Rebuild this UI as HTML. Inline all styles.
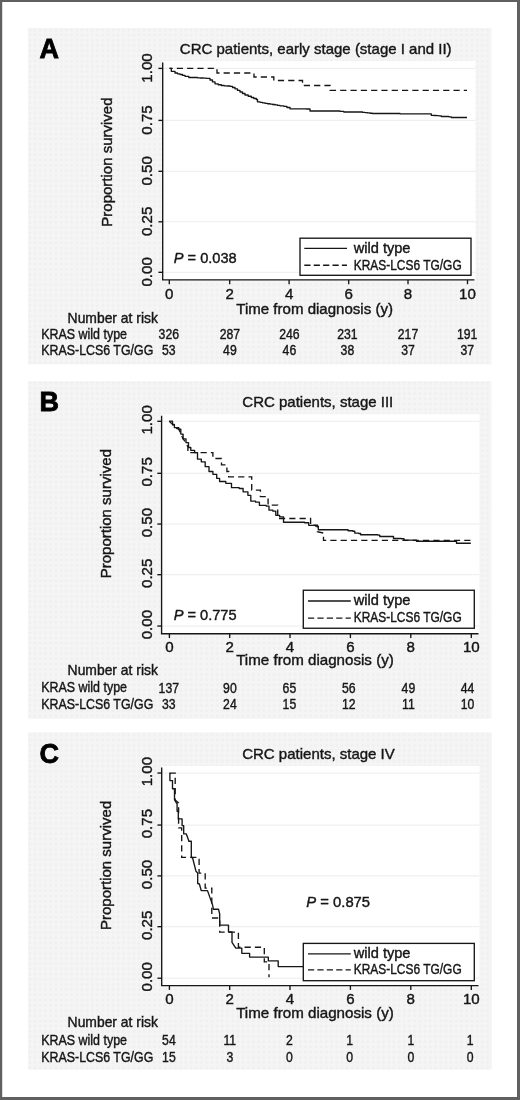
<!DOCTYPE html>
<html lang="en">
<head>
<meta charset="utf-8">
<title>Kaplan-Meier survival by KRAS-LCS6 genotype</title>
<style>
html,body{margin:0;padding:0;background:#fff;}
body{width:520px;height:1100px;overflow:hidden;font-family:"Liberation Sans", sans-serif;}
svg{display:block;}
text{white-space:pre;stroke:#161616;stroke-width:0.4px;}
text.lt{fill:#000;stroke:#000;stroke-width:.85px;}
</style>
</head>
<body>
<svg width="520" height="1100" viewBox="0 0 520 1100" font-family='"Liberation Sans", sans-serif' fill="#161616">
<defs><pattern id="ht" width="5.2" height="5.2" patternUnits="userSpaceOnUse"><path d="M0 1.3H5.2M1.3 0V5.2" stroke="#f8f8f8" stroke-width="2.2" stroke-opacity="0.6" fill="none"/></pattern></defs>
<rect x="0" y="0" width="520" height="1100" fill="#fff"/>
<g transform="translate(0 0.00)">
<rect x="28.2" y="28.0" width="463.2" height="336.3" fill="#f0f0f0"/>
<rect x="28.2" y="28.0" width="463.2" height="336.3" fill="url(#ht)"/>
<rect x="162.7" y="61.0" width="312.9" height="219.4" fill="#fff"/>
<line x1="162.7" x2="475.6" y1="68.40" y2="68.40" stroke="#eaeaea" stroke-width="0.9"/>
<line x1="162.7" x2="475.6" y1="120.40" y2="120.40" stroke="#eaeaea" stroke-width="0.9"/>
<line x1="162.7" x2="475.6" y1="171.30" y2="171.30" stroke="#eaeaea" stroke-width="0.9"/>
<line x1="162.7" x2="475.6" y1="221.80" y2="221.80" stroke="#eaeaea" stroke-width="0.9"/>
<line x1="162.7" x2="475.6" y1="272.30" y2="272.30" stroke="#eaeaea" stroke-width="0.9"/>
<path d="M467.0 90.3L330.0 90.3L330.0 85.5L302.5 85.5L302.5 80.5L273.8 80.5L273.8 77.0L254.0 77.0L254.0 73.0L217.0 73.0L217.0 68.3L169.5 68.3" fill="none" stroke="#161616" stroke-width="1.35" stroke-dasharray="6.2 4.1" stroke-dashoffset="3.0" stroke-linejoin="miter"/>
<path d="M169.5 68.3H171.3V71.3H175.0V73.0H177.5V73.8H180.0V74.5H182.5V75.4H185.0V76.3H188.8V77.5H197.5V77.8H200.4V78.0H203.4V78.1H206.3V78.3H210.0V80.0H212.5V81.9H215.0V83.8H218.2V84.7H221.3V85.5H224.2V85.8H227.1V86.0H230.0V86.3H232.5V87.5H235.0V88.8H237.5V90.4H240.0V92.0H242.5V93.5H245.0V95.0H248.2V96.2H251.3V97.5H253.8V98.5H256.3V99.5H257.5V101.8H260.0V102.3H262.5V102.8H265.0V103.3H267.5V103.7H270.0V104.1H272.5V104.5H275.0V104.9H277.5V105.4H280.0V105.8H283.8V106.3H286.9V107.5H290.0V108.8H306.3V109.0H310.0V111.0H340.0V111.3H343.8V112.0H362.5V112.3H365.0V112.6H367.5V112.9H370.0V113.2H372.5V113.5H400.0V113.8H427.5V113.8H431.3V115.3H433.8V115.5H436.3V115.6H438.8V115.8H441.3V116.5H448.8V116.8H451.3V117.5H467.0V117.5" fill="none" stroke="#161616" stroke-width="1.35" stroke-linejoin="round"/>
<rect x="300.0" y="238.2" width="171.0" height="37.1" fill="#fff" stroke="#161616" stroke-width="1.35"/>
<line x1="304.3" x2="347.0" y1="248.4" y2="248.4" stroke="#161616" stroke-width="1.35"/>
<line x1="304.3" x2="347.0" y1="265.2" y2="265.2" stroke="#161616" stroke-width="1.35" stroke-dasharray="6.2 3.2"/>
<text x="353.7" y="253.4" font-size="14.6">wild type</text>
<text x="353.7" y="269.7" font-size="14.2" textLength="108" lengthAdjust="spacingAndGlyphs">KRAS-LCS6 TG/GG</text>
<path d="M162.7 62.4V279.9H474.4" fill="none" stroke="#161616" stroke-width="1.35"/>
<line x1="158.4" x2="162.7" y1="68.40" y2="68.40" stroke="#161616" stroke-width="1.35"/>
<text transform="translate(151.8 68.00) rotate(-90)" text-anchor="middle" font-size="15.05">1.00</text>
<line x1="158.4" x2="162.7" y1="120.40" y2="120.40" stroke="#161616" stroke-width="1.35"/>
<text transform="translate(151.8 120.00) rotate(-90)" text-anchor="middle" font-size="15.05">0.75</text>
<line x1="158.4" x2="162.7" y1="171.30" y2="171.30" stroke="#161616" stroke-width="1.35"/>
<text transform="translate(151.8 170.90) rotate(-90)" text-anchor="middle" font-size="15.05">0.50</text>
<line x1="158.4" x2="162.7" y1="221.80" y2="221.80" stroke="#161616" stroke-width="1.35"/>
<text transform="translate(151.8 221.40) rotate(-90)" text-anchor="middle" font-size="15.05">0.25</text>
<line x1="158.4" x2="162.7" y1="272.30" y2="272.30" stroke="#161616" stroke-width="1.35"/>
<text transform="translate(151.8 271.90) rotate(-90)" text-anchor="middle" font-size="15.05">0.00</text>
<line x1="169.30" x2="169.30" y1="279.9" y2="284.2" stroke="#161616" stroke-width="1.35"/>
<text x="169.30" y="299.4" text-anchor="middle" font-size="15.1">0</text>
<text transform="translate(168.80 338.9) scale(0.855 1)" text-anchor="middle" font-size="14.3">326</text>
<text transform="translate(168.80 355.1) scale(0.855 1)" text-anchor="middle" font-size="14.3">53</text>
<line x1="229.70" x2="229.70" y1="279.9" y2="284.2" stroke="#161616" stroke-width="1.35"/>
<text x="229.70" y="299.4" text-anchor="middle" font-size="15.1">2</text>
<text transform="translate(229.90 338.9) scale(0.855 1)" text-anchor="middle" font-size="14.3">287</text>
<text transform="translate(229.90 355.1) scale(0.855 1)" text-anchor="middle" font-size="14.3">49</text>
<line x1="289.10" x2="289.10" y1="279.9" y2="284.2" stroke="#161616" stroke-width="1.35"/>
<text x="289.10" y="299.4" text-anchor="middle" font-size="15.1">4</text>
<text transform="translate(289.40 338.9) scale(0.855 1)" text-anchor="middle" font-size="14.3">246</text>
<text transform="translate(289.40 355.1) scale(0.855 1)" text-anchor="middle" font-size="14.3">46</text>
<line x1="348.70" x2="348.70" y1="279.9" y2="284.2" stroke="#161616" stroke-width="1.35"/>
<text x="348.70" y="299.4" text-anchor="middle" font-size="15.1">6</text>
<text transform="translate(347.40 338.9) scale(0.855 1)" text-anchor="middle" font-size="14.3">231</text>
<text transform="translate(347.40 355.1) scale(0.855 1)" text-anchor="middle" font-size="14.3">38</text>
<line x1="408.00" x2="408.00" y1="279.9" y2="284.2" stroke="#161616" stroke-width="1.35"/>
<text x="408.00" y="299.4" text-anchor="middle" font-size="15.1">8</text>
<text transform="translate(408.00 338.9) scale(0.855 1)" text-anchor="middle" font-size="14.3">217</text>
<text transform="translate(408.00 355.1) scale(0.855 1)" text-anchor="middle" font-size="14.3">37</text>
<line x1="467.50" x2="467.50" y1="279.9" y2="284.2" stroke="#161616" stroke-width="1.35"/>
<text x="467.50" y="299.4" text-anchor="middle" font-size="15.1">10</text>
<text transform="translate(467.20 338.9) scale(0.855 1)" text-anchor="middle" font-size="14.3">191</text>
<text transform="translate(467.20 355.1) scale(0.855 1)" text-anchor="middle" font-size="14.3">37</text>
<text transform="translate(111.7 162.1) rotate(-90)" text-anchor="middle" font-size="15.0">Proportion survived</text>
<text x="236.3" y="313.8" font-size="15.05">Time from diagnosis (y)</text>
<text x="179.8" y="54.4" font-size="15.0">CRC patients, early stage (stage I and II)</text>
<text transform="translate(39.5 57.5) scale(0.95 1)" font-size="28.4" font-weight="bold" class="lt">A</text>
<text x="173.8" y="263.2" font-size="14.6"><tspan font-style="italic">P</tspan> = 0.038</text>
<text x="67.6" y="322.7" font-size="13.9">Number at risk</text>
<text x="41.3" y="338.9" font-size="14" textLength="85.7" lengthAdjust="spacingAndGlyphs">KRAS wild type</text>
<text x="41.3" y="355.1" font-size="14" textLength="112" lengthAdjust="spacingAndGlyphs">KRAS-LCS6 TG/GG</text>
</g>
<g transform="translate(0 353.25)">
<rect x="28.2" y="28.0" width="463.2" height="337.5" fill="#f0f0f0"/>
<rect x="28.2" y="28.0" width="463.2" height="337.5" fill="url(#ht)"/>
<rect x="161.6" y="61.0" width="317.8" height="219.4" fill="#fff"/>
<line x1="161.6" x2="479.4" y1="68.05" y2="68.05" stroke="#eaeaea" stroke-width="0.9"/>
<line x1="161.6" x2="479.4" y1="120.05" y2="120.05" stroke="#eaeaea" stroke-width="0.9"/>
<line x1="161.6" x2="479.4" y1="170.80" y2="170.80" stroke="#eaeaea" stroke-width="0.9"/>
<line x1="161.6" x2="479.4" y1="221.45" y2="221.45" stroke="#eaeaea" stroke-width="0.9"/>
<line x1="161.6" x2="479.4" y1="272.80" y2="272.80" stroke="#eaeaea" stroke-width="0.9"/>
<path d="M169.2 67.9L172.5 71.1L174.4 74.4L178.8 75.9L180.8 80.8L183.1 85.6L186.0 89.4L187.9 93.8L187.9 99.4L212.9 99.4L212.9 105.2L221.5 105.2L221.5 111.6L226.9 111.6L226.9 118.2L228.7 118.2L228.7 123.6L251.7 123.6L251.7 136.8L260.4 136.8L260.4 143.4L268.1 143.4L268.1 151.8L277.7 151.8L277.7 165.2L310.6 165.2L310.6 171.8L317.3 171.8L317.3 178.5L323.5 179.8L323.5 187.1L470.8 187.1" fill="none" stroke="#161616" stroke-width="1.35" stroke-dasharray="6.2 4.1" stroke-dashoffset="0" stroke-linejoin="miter"/>
<path d="M169.2 67.9H172.5V71.1H174.4V74.4H178.8V75.9H180.8V80.8H183.1V85.6H186.0V89.4H188.5V94.2H190.8V97.1H194.6V99.4H197.5V105.8H201.3V108.6H205.2V113.4H209.0V118.2H212.9V121.1H216.7V125.1H219.6V128.2H225.8V130.1H231.5V134.4H239.2V135.2H243.1V138.6H247.9V142.1H250.8V147.9H255.6V148.9H259.4V152.1H266.2V152.8H269.0V156.9H272.9V157.9H275.8V162.1H279.6V163.6H283.5V169.0H304.6V169.5H308.7V172.1H315.4V172.8H318.3V176.5H346.2V176.5H348.1V177.5H352.9V178.0H354.8V179.9H358.7V180.2H360.6V181.5H377.9V181.8H379.8V183.2H391.5V183.2H393.5V185.2H401.2V185.5H404.0V186.8H412.7V186.8H416.5V188.0H455.0V188.0H456.5V190.0H470.8V190.0" fill="none" stroke="#161616" stroke-width="1.35" stroke-linejoin="round"/>
<rect x="303.3" y="237.0" width="171.0" height="38.0" fill="#fff" stroke="#161616" stroke-width="1.35"/>
<line x1="308.0" x2="350.8" y1="247.7" y2="247.7" stroke="#161616" stroke-width="1.35"/>
<line x1="308.0" x2="350.8" y1="264.9" y2="264.9" stroke="#161616" stroke-width="1.35" stroke-dasharray="6.2 3.2"/>
<text x="353.7" y="252.0" font-size="14.6">wild type</text>
<text x="353.7" y="268.3" font-size="14.2" textLength="108" lengthAdjust="spacingAndGlyphs">KRAS-LCS6 TG/GG</text>
<path d="M161.6 62.4V280.45H478.5" fill="none" stroke="#161616" stroke-width="1.35"/>
<line x1="157.3" x2="161.6" y1="68.05" y2="68.05" stroke="#161616" stroke-width="1.35"/>
<text transform="translate(151.8 66.65) rotate(-90)" text-anchor="middle" font-size="15.05">1.00</text>
<line x1="157.3" x2="161.6" y1="120.05" y2="120.05" stroke="#161616" stroke-width="1.35"/>
<text transform="translate(151.8 118.65) rotate(-90)" text-anchor="middle" font-size="15.05">0.75</text>
<line x1="157.3" x2="161.6" y1="170.80" y2="170.80" stroke="#161616" stroke-width="1.35"/>
<text transform="translate(151.8 169.40) rotate(-90)" text-anchor="middle" font-size="15.05">0.50</text>
<line x1="157.3" x2="161.6" y1="221.45" y2="221.45" stroke="#161616" stroke-width="1.35"/>
<text transform="translate(151.8 220.05) rotate(-90)" text-anchor="middle" font-size="15.05">0.25</text>
<line x1="157.3" x2="161.6" y1="272.80" y2="272.80" stroke="#161616" stroke-width="1.35"/>
<text transform="translate(151.8 271.40) rotate(-90)" text-anchor="middle" font-size="15.05">0.00</text>
<line x1="169.40" x2="169.40" y1="280.45" y2="284.8" stroke="#161616" stroke-width="1.35"/>
<text x="169.40" y="298.7" text-anchor="middle" font-size="15.1">0</text>
<text transform="translate(168.80 339.9) scale(0.855 1)" text-anchor="middle" font-size="14.3">137</text>
<text transform="translate(168.80 355.9) scale(0.855 1)" text-anchor="middle" font-size="14.3">33</text>
<line x1="229.70" x2="229.70" y1="280.45" y2="284.8" stroke="#161616" stroke-width="1.35"/>
<text x="229.70" y="298.7" text-anchor="middle" font-size="15.1">2</text>
<text transform="translate(229.90 339.9) scale(0.855 1)" text-anchor="middle" font-size="14.3">90</text>
<text transform="translate(229.90 355.9) scale(0.855 1)" text-anchor="middle" font-size="14.3">24</text>
<line x1="290.00" x2="290.00" y1="280.45" y2="284.8" stroke="#161616" stroke-width="1.35"/>
<text x="290.00" y="298.7" text-anchor="middle" font-size="15.1">4</text>
<text transform="translate(289.40 339.9) scale(0.855 1)" text-anchor="middle" font-size="14.3">65</text>
<text transform="translate(289.40 355.9) scale(0.855 1)" text-anchor="middle" font-size="14.3">15</text>
<line x1="350.40" x2="350.40" y1="280.45" y2="284.8" stroke="#161616" stroke-width="1.35"/>
<text x="350.40" y="298.7" text-anchor="middle" font-size="15.1">6</text>
<text transform="translate(348.70 339.9) scale(0.855 1)" text-anchor="middle" font-size="14.3">56</text>
<text transform="translate(348.70 355.9) scale(0.855 1)" text-anchor="middle" font-size="14.3">12</text>
<line x1="410.80" x2="410.80" y1="280.45" y2="284.8" stroke="#161616" stroke-width="1.35"/>
<text x="410.80" y="298.7" text-anchor="middle" font-size="15.1">8</text>
<text transform="translate(408.40 339.9) scale(0.855 1)" text-anchor="middle" font-size="14.3">49</text>
<text transform="translate(408.40 355.9) scale(0.855 1)" text-anchor="middle" font-size="14.3">11</text>
<line x1="471.30" x2="471.30" y1="280.45" y2="284.8" stroke="#161616" stroke-width="1.35"/>
<text x="471.30" y="298.7" text-anchor="middle" font-size="15.1">10</text>
<text transform="translate(467.60 339.9) scale(0.855 1)" text-anchor="middle" font-size="14.3">44</text>
<text transform="translate(467.60 355.9) scale(0.855 1)" text-anchor="middle" font-size="14.3">10</text>
<text transform="translate(111.4 160.4) rotate(-90)" text-anchor="middle" font-size="15.0">Proportion survived</text>
<text x="236.2" y="312.2" font-size="15.15">Time from diagnosis (y)</text>
<text x="317.8" y="53.5" text-anchor="middle" font-size="15.0">CRC patients, stage III</text>
<text transform="translate(39.5 57.5) scale(0.95 1)" font-size="28.4" font-weight="bold" class="lt">B</text>
<text x="173.7" y="266.9" font-size="14.6"><tspan font-style="italic">P</tspan> = 0.775</text>
<text x="67.6" y="321.3" font-size="13.9">Number at risk</text>
<text x="41.3" y="338.9" font-size="14" textLength="85.7" lengthAdjust="spacingAndGlyphs">KRAS wild type</text>
<text x="41.3" y="356.0" font-size="14" textLength="112" lengthAdjust="spacingAndGlyphs">KRAS-LCS6 TG/GG</text>
</g>
<g transform="translate(0 705.00)">
<rect x="28.2" y="27.5" width="463.5" height="337.1" fill="#f0f0f0"/>
<rect x="28.2" y="27.5" width="463.5" height="337.1" fill="url(#ht)"/>
<rect x="161.7" y="61.0" width="317.7" height="219.4" fill="#fff"/>
<line x1="161.7" x2="479.4" y1="68.05" y2="68.05" stroke="#eaeaea" stroke-width="0.9"/>
<line x1="161.7" x2="479.4" y1="120.05" y2="120.05" stroke="#eaeaea" stroke-width="0.9"/>
<line x1="161.7" x2="479.4" y1="170.90" y2="170.90" stroke="#eaeaea" stroke-width="0.9"/>
<line x1="161.7" x2="479.4" y1="221.70" y2="221.70" stroke="#eaeaea" stroke-width="0.9"/>
<line x1="161.7" x2="479.4" y1="273.20" y2="273.20" stroke="#eaeaea" stroke-width="0.9"/>
<path d="M169.6 68.1L175.2 68.1L175.2 95.0L178.6 98.0L178.6 122.9L181.7 122.9L181.7 152.4L199.1 152.4L199.1 168.1L205.2 168.1L205.2 183.1L211.8 183.1L211.8 213.0L219.7 213.0L219.7 227.1L238.4 227.1L238.4 242.2L264.3 242.2L264.3 256.8L269.0 256.8L269.0 272.2" fill="none" stroke="#161616" stroke-width="1.35" stroke-dasharray="6.2 4.1" stroke-dashoffset="0" stroke-linejoin="miter"/>
<path d="M169.6 68.1L169.9 68.1L169.9 75.6L172.5 75.6L172.5 83.7L174.5 83.7L174.5 94.6L176.5 98.1L177.1 98.1L177.1 106.2L178.3 106.2L178.3 113.9L182.1 113.9L182.1 120.6L183.7 120.6L183.7 128.9L186.3 128.9L188.7 135.6L188.7 136.2L191.3 136.2L191.3 152.5L192.5 152.5L196.0 166.3L197.7 168.1L197.7 178.5L199.4 179.0L201.2 185.5L207.5 185.6L212.7 200.4L213.3 204.2L218.5 204.2L219.7 209.0L219.7 220.1L228.5 220.1L228.5 227.0L232.0 227.0L232.0 237.4L235.8 243.1L241.8 243.1L241.8 248.3L249.6 248.3L249.6 252.1L268.3 252.1L268.3 255.9L278.2 255.9L278.2 261.6L303.3 261.6" fill="none" stroke="#161616" stroke-width="1.35" stroke-linejoin="round"/>
<rect x="303.3" y="238.4" width="171.0" height="37.3" fill="#fff" stroke="#161616" stroke-width="1.35"/>
<line x1="308.0" x2="350.8" y1="248.8" y2="248.8" stroke="#161616" stroke-width="1.35"/>
<line x1="308.0" x2="350.8" y1="264.9" y2="264.9" stroke="#161616" stroke-width="1.35" stroke-dasharray="6.2 3.2"/>
<text x="353.7" y="253.1" font-size="14.6">wild type</text>
<text x="353.7" y="268.7" font-size="14.2" textLength="108" lengthAdjust="spacingAndGlyphs">KRAS-LCS6 TG/GG</text>
<path d="M161.7 62.4V280.65H478.5" fill="none" stroke="#161616" stroke-width="1.35"/>
<line x1="157.4" x2="161.7" y1="68.05" y2="68.05" stroke="#161616" stroke-width="1.35"/>
<text transform="translate(151.8 66.65) rotate(-90)" text-anchor="middle" font-size="15.05">1.00</text>
<line x1="157.4" x2="161.7" y1="120.05" y2="120.05" stroke="#161616" stroke-width="1.35"/>
<text transform="translate(151.8 118.65) rotate(-90)" text-anchor="middle" font-size="15.05">0.75</text>
<line x1="157.4" x2="161.7" y1="170.90" y2="170.90" stroke="#161616" stroke-width="1.35"/>
<text transform="translate(151.8 169.50) rotate(-90)" text-anchor="middle" font-size="15.05">0.50</text>
<line x1="157.4" x2="161.7" y1="221.70" y2="221.70" stroke="#161616" stroke-width="1.35"/>
<text transform="translate(151.8 220.30) rotate(-90)" text-anchor="middle" font-size="15.05">0.25</text>
<line x1="157.4" x2="161.7" y1="273.20" y2="273.20" stroke="#161616" stroke-width="1.35"/>
<text transform="translate(151.8 271.80) rotate(-90)" text-anchor="middle" font-size="15.05">0.00</text>
<line x1="169.40" x2="169.40" y1="280.65" y2="284.9" stroke="#161616" stroke-width="1.35"/>
<text x="169.40" y="298.8" text-anchor="middle" font-size="15.1">0</text>
<text transform="translate(168.90 340.2) scale(0.855 1)" text-anchor="middle" font-size="14.3">54</text>
<text transform="translate(168.90 356.6) scale(0.855 1)" text-anchor="middle" font-size="14.3">15</text>
<line x1="229.70" x2="229.70" y1="280.65" y2="284.9" stroke="#161616" stroke-width="1.35"/>
<text x="229.70" y="298.8" text-anchor="middle" font-size="15.1">2</text>
<text transform="translate(229.80 340.2) scale(0.855 1)" text-anchor="middle" font-size="14.3">11</text>
<text transform="translate(229.80 356.6) scale(0.855 1)" text-anchor="middle" font-size="14.3">3</text>
<line x1="290.00" x2="290.00" y1="280.65" y2="284.9" stroke="#161616" stroke-width="1.35"/>
<text x="290.00" y="298.8" text-anchor="middle" font-size="15.1">4</text>
<text transform="translate(289.30 340.2) scale(0.855 1)" text-anchor="middle" font-size="14.3">2</text>
<text transform="translate(289.30 356.6) scale(0.855 1)" text-anchor="middle" font-size="14.3">0</text>
<line x1="350.40" x2="350.40" y1="280.65" y2="284.9" stroke="#161616" stroke-width="1.35"/>
<text x="350.40" y="298.8" text-anchor="middle" font-size="15.1">6</text>
<text transform="translate(349.70 340.2) scale(0.855 1)" text-anchor="middle" font-size="14.3">1</text>
<text transform="translate(349.70 356.6) scale(0.855 1)" text-anchor="middle" font-size="14.3">0</text>
<line x1="410.80" x2="410.80" y1="280.65" y2="284.9" stroke="#161616" stroke-width="1.35"/>
<text x="410.80" y="298.8" text-anchor="middle" font-size="15.1">8</text>
<text transform="translate(410.80 340.2) scale(0.855 1)" text-anchor="middle" font-size="14.3">1</text>
<text transform="translate(410.80 356.6) scale(0.855 1)" text-anchor="middle" font-size="14.3">0</text>
<line x1="471.30" x2="471.30" y1="280.65" y2="284.9" stroke="#161616" stroke-width="1.35"/>
<text x="471.30" y="298.8" text-anchor="middle" font-size="15.1">10</text>
<text transform="translate(470.20 340.2) scale(0.855 1)" text-anchor="middle" font-size="14.3">1</text>
<text transform="translate(470.20 356.6) scale(0.855 1)" text-anchor="middle" font-size="14.3">0</text>
<text transform="translate(111.4 160.4) rotate(-90)" text-anchor="middle" font-size="15.0">Proportion survived</text>
<text x="236.2" y="313.2" font-size="15.15">Time from diagnosis (y)</text>
<text x="318.5" y="54.4" text-anchor="middle" font-size="15.0">CRC patients, stage IV</text>
<text transform="translate(39.5 57.5) scale(0.95 1)" font-size="28.4" font-weight="bold" class="lt">C</text>
<text x="306.3" y="202.2" font-size="14.8"><tspan font-style="italic">P</tspan> = 0.875</text>
<text x="67.6" y="322.4" font-size="13.9">Number at risk</text>
<text x="41.3" y="339.9" font-size="14" textLength="85.7" lengthAdjust="spacingAndGlyphs">KRAS wild type</text>
<text x="41.3" y="357.0" font-size="14" textLength="112" lengthAdjust="spacingAndGlyphs">KRAS-LCS6 TG/GG</text>
</g>
<path d="M0 0H520V1100H0ZM2.2 1.9V1096.9H517V1.9Z" fill="#606060" fill-rule="evenodd"/>
</svg>
</body>
</html>
